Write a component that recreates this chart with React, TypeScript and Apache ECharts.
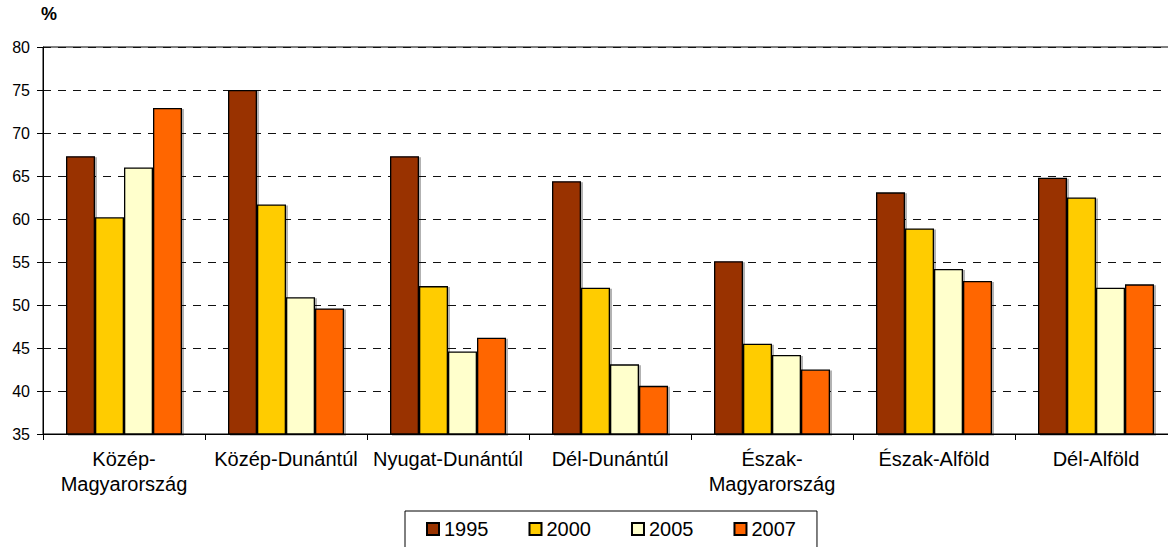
import React, { useEffect, useRef } from "react";
import * as echarts from "echarts";

const categories = [
  "Közép-\nMagyarország",
  "Közép-Dunántúl",
  "Nyugat-Dunántúl",
  "Dél-Dunántúl",
  "Észak-\nMagyarország",
  "Észak-Alföld",
  "Dél-Alföld",
];
const years = ["1995", "2000", "2005", "2007"];
const v1995 = [67.3, 75.0, 67.3, 64.4, 55.1, 63.1, 64.8];
const v2000 = [60.2, 61.7, 52.2, 52.0, 45.5, 58.9, 62.5];
const v2005 = [66.0, 50.9, 44.6, 43.1, 44.2, 54.2, 52.0];
const v2007 = [72.9, 49.6, 46.2, 40.6, 42.5, 52.8, 52.4];
const colors = ["#993300", "#FFCC00", "#FFFFCC", "#FF6600"];

const FONT = "'Liberation Sans', Arial, sans-serif";

export default function App() {
  const ref = useRef<HTMLDivElement>(null);
  useEffect(() => {
    if (!ref.current) return;
    const chart = echarts.init(ref.current, undefined, { renderer: "svg" });
    const values = [v1995, v2000, v2005, v2007];
    chart.setOption({
      animation: false,
      backgroundColor: "#fff",
      textStyle: { fontFamily: FONT },
      grid: {
        left: 43,
        top: 47,
        width: 1134,
        height: 387,
        show: true,
        borderColor: "#000",
        borderWidth: 1,
        backgroundColor: "transparent",
      },
      graphic: [
        {
          type: "text",
          left: 41,
          top: 5,
          style: { text: "%", font: `bold 18px ${FONT}`, fill: "#000" },
        },
      ],
      legend: {
        left: 405,
        top: 511,
        data: years,
        itemWidth: 12,
        itemHeight: 12,
        itemGap: 40,
        padding: [8, 21, 30, 21],
        borderColor: "#000",
        borderWidth: 1,
        icon: "rect",
        textStyle: { fontSize: 20, color: "#000", fontFamily: FONT },
      },
      xAxis: {
        type: "category",
        data: categories,
        boundaryGap: true,
        axisLine: { lineStyle: { color: "#000", width: 1 } },
        axisTick: { show: true, length: 6, inside: false, lineStyle: { color: "#000" } },
        axisLabel: {
          fontSize: 20,
          lineHeight: 25,
          color: "#000",
          margin: 12,
          interval: 0,
          fontFamily: FONT,
        },
        splitLine: { show: false },
      },
      yAxis: {
        type: "value",
        min: 35,
        max: 80,
        interval: 5,
        axisLine: { show: true, lineStyle: { color: "#000", width: 1 } },
        axisTick: { show: true, length: 6, lineStyle: { color: "#000" } },
        axisLabel: { fontSize: 16, color: "#000", margin: 13, fontFamily: FONT },
        splitLine: {
          show: true,
          lineStyle: { color: "#111", type: [8, 7], width: 1 },
        },
      },
      series: years.map((y, i) => ({
        name: y,
        type: "bar",
        data: values[i],
        barWidth: 29,
        barGap: "0%",
        itemStyle: {
          color: colors[i],
          borderColor: "#000",
          borderWidth: 1.3,
          shadowColor: "rgba(0,0,0,0.3)",
          shadowOffsetX: 2,
          shadowOffsetY: 1,
          shadowBlur: 0,
        },
      })),
    });
    return () => chart.dispose();
  }, []);
  return (
    <div
      style={{
        position: "absolute",
        left: 0,
        top: 0,
        width: 1168,
        height: 547,
        overflow: "hidden",
        background: "#fff",
      }}
    >
      <div ref={ref} style={{ width: 1200, height: 547 }} />
    </div>
  );
}
